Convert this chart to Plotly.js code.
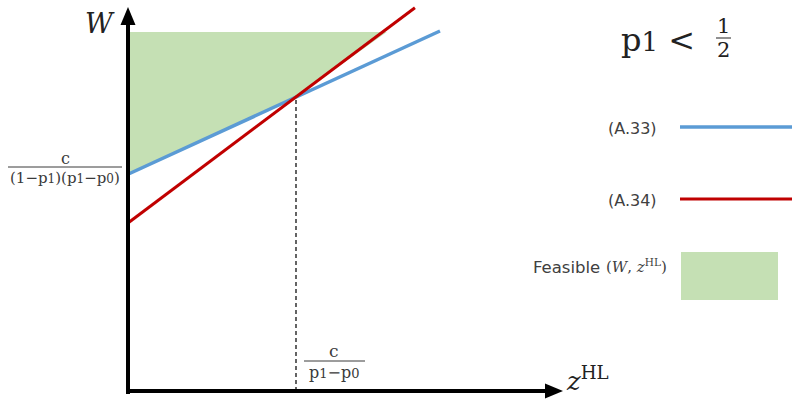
<!DOCTYPE html>
<html>
<head>
<meta charset="utf-8">
<script src="https://cdn.plot.ly/plotly-3.0.1.min.js"></script>
<style>html,body{margin:0;padding:0;background:#fff;}#chart{width:792px;height:399px;}</style>
</head>
<body>
<div id="chart"></div>
<script>
// ---- data (z^HL on x, W on y; intersection at z = c/(p1-p0) = 1) ----
const zBlue = [0, 1.857];          // (A.33)
const wBlue = [1.29, 2.143];
const zRed = [0, 1.708];           // (A.34)
const wRed = [1.0, 2.281];
const zFeasible = [0, 1.54, 1.0, 0, 0];   // feasible (W, z^HL) region
const wFeasible = [2.137, 2.137, 1.75, 1.29, 2.137];
const zCross = [1, 1];             // dashed line at c/(p1-p0)
const wCross = [0, 1.75];
const seriesNames = ["(A.33)", "(A.34)"];
const xTickLabel = {num: "c", den: "p1\u2212p0"};
const yTickLabel = {num: "c", den: "(1\u2212p1)(p1\u2212p0)"};

// ---- layout helpers (pixel -> data) ----
const S = 168, X0 = 128, Y0 = 391;
const zx = px => (px - X0) / S;
const wy = py => (Y0 - py) / S;
const sm = (d, px) => '<span style="font-size:' + px + 'px">' + d + '</span>';
const fmt = (s, px) => s.replace(/p([01])/g, (m, d) => 'p' + sm(d, px));
const pathOf = pts => 'M' + pts.map(p => zx(p[0]) + ',' + wy(p[1])).join('L') + 'Z';

const serif = "DejaVu Serif";
const sans = "DejaVu Sans";
const txt = "#3a3a3a";

const traces = [
  {x: zFeasible, y: wFeasible, mode: "lines", fill: "toself", fillcolor: "#C5E0B4",
   line: {width: 0, color: "#C5E0B4"}, hoverinfo: "skip"},
  {x: zCross, y: wCross, mode: "lines", line: {color: "#111", width: 1.3, dash: "4px,3px"}, hoverinfo: "skip"},
  {x: zBlue, y: wBlue, mode: "lines", name: seriesNames[0], line: {color: "#5B9BD5", width: 3.5}},
  {x: zRed, y: wRed, mode: "lines", name: seriesNames[1], line: {color: "#C00000", width: 3}}
];

const ann = [];
// axis titles
ann.push({x: zx(100), y: wy(23), text: "<i>W</i>", showarrow: false, font: {family: serif, size: 27, color: "#222"}});
ann.push({x: zx(564), y: wy(379), xanchor: "left", text: "<i>z</i><sup>HL</sup>", showarrow: false,
  font: {family: serif, size: 26, color: "#222"}});
// y tick label (fraction)
ann.push({x: zx(65), y: wy(158), text: yTickLabel.num, showarrow: false, font: {family: serif, size: 16, color: txt}});
ann.push({x: zx(65), y: wy(178), text: fmt(yTickLabel.den, 12), showarrow: false, font: {family: serif, size: 15, color: txt}});
// x tick label (fraction)
ann.push({x: zx(334), y: wy(351), text: xTickLabel.num, showarrow: false, font: {family: serif, size: 17, color: txt}});
ann.push({x: zx(334), y: wy(372), text: fmt(xTickLabel.den, 13), showarrow: false, font: {family: serif, size: 16, color: txt}});
// condition title
ann.push({x: zx(619), y: wy(40), xanchor: "left", text: 'p' + sm("1", 26) + ' &lt;', showarrow: false,
  font: {family: serif, size: 32, color: "#222"}});
ann.push({x: zx(723), y: wy(26), text: "1", showarrow: false, font: {family: serif, size: 21, color: "#222"}});
ann.push({x: zx(723), y: wy(50), text: "2", showarrow: false, font: {family: serif, size: 21, color: "#222"}});
// legend texts
ann.push({x: zx(659), y: wy(128), xanchor: "right", text: seriesNames[0], showarrow: false, font: {family: sans, size: 16, color: "#404040"}});
ann.push({x: zx(659), y: wy(200), xanchor: "right", text: seriesNames[1], showarrow: false, font: {family: sans, size: 16, color: "#404040"}});
ann.push({x: zx(531), y: wy(267), xanchor: "left", text: "Feasible", showarrow: false, font: {family: sans, size: 16.5, color: "#404040"}});
ann.push({x: zx(604), y: wy(266), xanchor: "left", text: "(<i>W</i>, <i>z</i><sup>HL</sup>)", showarrow: false,
  font: {family: serif, size: 15, color: "#404040"}});

const shapes = [
  // axes with arrowheads
  {type: "line", x0: zx(128), x1: zx(128), y0: wy(394), y1: wy(20), line: {color: "#000", width: 4}},
  {type: "path", path: pathOf([[128, 7], [120.5, 25], [135.5, 25]]), fillcolor: "#000", line: {width: 0}},
  {type: "line", x0: zx(126), x1: zx(550), y0: wy(391), y1: wy(391), line: {color: "#000", width: 4}},
  {type: "path", path: pathOf([[563, 391], [545, 383.5], [545, 398.5]]), fillcolor: "#000", line: {width: 0}},
  // fraction bars
  {type: "line", x0: zx(8), x1: zx(122), y0: wy(167), y1: wy(167), line: {color: txt, width: 1}},
  {type: "line", x0: zx(304), x1: zx(365), y0: wy(361), y1: wy(361), line: {color: txt, width: 1}},
  {type: "line", x0: zx(716), x1: zx(731), y0: wy(38), y1: wy(38), line: {color: "#222", width: 1}},
  // legend samples
  {type: "line", x0: zx(680), x1: zx(792), y0: wy(127), y1: wy(127), line: {color: "#5B9BD5", width: 3.5}},
  {type: "line", x0: zx(680), x1: zx(792), y0: wy(199), y1: wy(199), line: {color: "#C00000", width: 3}},
  {type: "rect", x0: zx(681), x1: zx(778), y0: wy(252), y1: wy(300), fillcolor: "#C5E0B4", line: {width: 0}}
];

const layout = {
  width: 792, height: 399,
  margin: {l: 0, r: 0, t: 0, b: 0},
  paper_bgcolor: "#fff", plot_bgcolor: "#fff",
  showlegend: false,
  xaxis: {range: [zx(0), zx(792)], visible: false, fixedrange: true},
  yaxis: {range: [wy(399), wy(0)], visible: false, fixedrange: true},
  annotations: ann,
  shapes: shapes
};

Plotly.newPlot("chart", traces, layout, {staticPlot: true, displayModeBar: false});
</script>
</body>
</html>
